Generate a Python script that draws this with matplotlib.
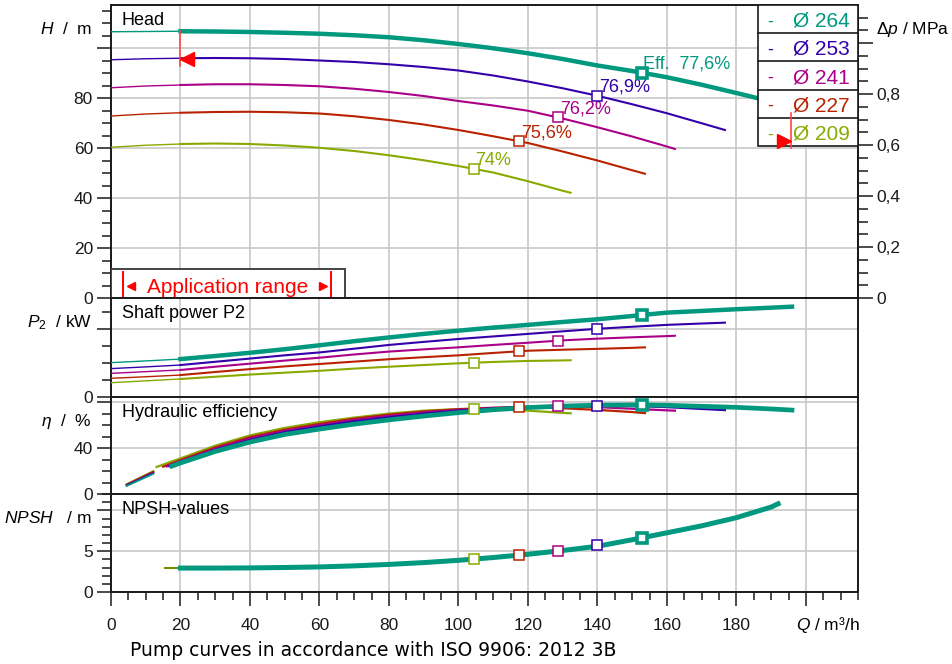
import matplotlib
matplotlib.use("Agg")
import matplotlib.pyplot as plt
from matplotlib.patches import Rectangle
from matplotlib.ticker import MultipleLocator, FixedLocator, FuncFormatter

plt.rcParams['font.family'] = ['Liberation Sans', 'DejaVu Sans']
plt.rcParams['mathtext.fontset'] = 'custom'
plt.rcParams['mathtext.rm'] = 'Liberation Sans'
plt.rcParams['mathtext.it'] = 'Liberation Sans:italic'

# impellers, biggest first
diameters = [264, 253, 241, 227, 209]
colors = ['#00997f', '#3300aa', '#aa0088', '#b82200', '#88aa00']
eff_text = ['Eff.  77,6%', '76,9%', '76,2%', '75,6%', '74%']

# best efficiency points
bep_q = [152.8, 140.0, 128.7, 117.5, 104.5]
bep_h = [90.1, 80.9, 72.3, 62.8, 51.6]
bep_p = [48.2, 40.1, 33.2, 27.0, 20.2]
bep_eta = [77.6, 76.9, 76.2, 75.6, 74.0]
bep_npsh = [6.67, 5.73, 5.0, 4.47, 4.02]

# head and shaft power
q_264 = [0, 10, 20, 30, 40, 50, 60, 70, 80, 90, 100, 110, 120, 130, 140, 150, 152.8, 160, 170, 180, 190, 196]
h_264 = [106.5, 106.6, 106.7, 106.6, 106.4, 106.1, 105.7, 105.1, 104.3, 103.1, 101.6, 99.9, 97.9, 95.6, 93.0, 90.8, 90.1, 88.3, 85.3, 82.0, 78.6, 76.5]
p_264 = [20.2, 21.2, 22.3, 24.1, 26.0, 28.1, 30.4, 32.8, 35.0, 37.1, 39.0, 40.8, 42.4, 44.1, 45.7, 47.6, 48.2, 49.6, 50.6, 51.6, 52.5, 53.1]

q_253 = [0, 10, 20, 30, 40, 50, 60, 70, 80, 90, 100, 110, 120, 130, 140, 150, 160, 170, 176.7]
h_253 = [95.3, 95.7, 95.9, 96.0, 95.9, 95.6, 95.0, 94.4, 93.5, 92.4, 91.0, 89.0, 86.6, 83.9, 80.9, 77.5, 73.9, 69.9, 67.2]
p_253 = [16.7, 17.7, 18.8, 20.7, 22.6, 24.5, 26.2, 28.4, 30.6, 32.4, 34.1, 35.6, 37.1, 38.6, 40.1, 41.3, 42.4, 43.2, 43.7]

q_241 = [0, 10, 20, 30, 40, 50, 60, 70, 80, 90, 100, 110, 120, 130, 140, 150, 160, 162.3]
h_241 = [84.1, 84.8, 85.2, 85.5, 85.5, 85.2, 84.7, 83.7, 82.4, 80.8, 78.8, 77.0, 74.9, 71.8, 68.3, 64.6, 60.6, 59.6]
p_241 = [13.9, 14.9, 15.9, 17.8, 19.6, 21.4, 23.1, 25.0, 26.7, 28.0, 29.2, 30.6, 31.9, 33.3, 34.3, 35.1, 35.8, 36.0]

q_227 = [0, 10, 20, 30, 40, 50, 60, 70, 80, 90, 100, 110, 120, 130, 140, 150, 153.7]
h_227 = [72.8, 73.6, 74.1, 74.4, 74.5, 74.3, 73.8, 72.7, 71.2, 69.4, 67.2, 64.7, 62.0, 58.6, 55.0, 51.1, 49.7]
p_227 = [11.0, 11.9, 12.9, 14.7, 16.4, 18.0, 19.4, 20.8, 22.2, 23.4, 24.5, 25.9, 27.2, 27.8, 28.3, 28.9, 29.2]

q_209 = [0, 10, 20, 30, 40, 50, 60, 70, 80, 90, 100, 110, 120, 130, 132.3]
h_209 = [60.3, 61.1, 61.6, 61.8, 61.6, 61.0, 60.1, 58.8, 57.1, 55.1, 52.8, 50.2, 46.7, 42.9, 42.1]
p_209 = [8.4, 9.5, 10.6, 11.9, 13.2, 14.3, 15.4, 16.7, 17.8, 18.8, 19.8, 20.6, 21.2, 21.5, 21.6]

# hydraulic efficiency
qe_264 = [17.5, 20, 30, 40, 50, 60, 70, 80, 90, 100, 110, 120, 130, 140, 152.8, 160, 170, 180, 190, 196]
eta_264 = [24.3, 27.0, 37.0, 45.2, 51.8, 56.5, 60.8, 64.5, 67.8, 70.8, 73.3, 75.2, 76.5, 77.3, 77.6, 77.2, 76.3, 75.4, 74.0, 73.0]
qe_253 = [16.8, 20, 30, 40, 50, 60, 70, 80, 90, 100, 110, 120, 130, 140, 150, 160, 170, 176.7]
eta_253 = [24.2, 28.0, 38.5, 47.0, 53.8, 58.8, 63.2, 66.8, 70.0, 72.5, 74.5, 75.8, 76.6, 76.9, 76.6, 75.6, 74.0, 73.0]
qe_241 = [16.0, 20, 30, 40, 50, 60, 70, 80, 90, 100, 110, 120, 130, 140, 150, 160, 162.3]
eta_241 = [24.0, 28.5, 39.5, 48.4, 55.0, 60.0, 64.5, 68.0, 71.0, 73.2, 74.8, 75.8, 76.2, 75.6, 74.2, 72.8, 72.5]
qe_227 = [15.0, 20, 30, 40, 50, 60, 70, 80, 90, 100, 110, 120, 130, 140, 150, 153.7]
eta_227 = [23.8, 29.5, 40.5, 49.5, 56.0, 61.0, 65.5, 69.0, 71.8, 73.8, 75.1, 75.6, 74.6, 73.2, 71.3, 70.4]
qe_209 = [13.1, 20, 30, 40, 50, 60, 70, 80, 90, 100, 110, 120, 130, 132.3]
eta_209 = [23.5, 31.0, 42.0, 51.0, 57.5, 62.5, 66.5, 70.0, 72.5, 73.9, 73.9, 72.5, 70.6, 70.2]

# low flow part of the efficiency curves
q_low = [4.5, 12.2]
eta_low = [[7.0, 17.6], [7.4, 18.2], [7.8, 18.8], [8.2, 19.4], [8.6, 20.0]]

# NPSH
npsh_q = [20, 30, 40, 50, 60, 70, 80, 90, 100, 110, 120, 130, 140, 150, 160, 170, 180, 190, 192]
npsh_m = [2.93, 2.93, 2.95, 3.0, 3.07, 3.2, 3.38, 3.6, 3.88, 4.22, 4.62, 5.08, 5.6, 6.4, 7.25, 8.1, 9.1, 10.4, 10.8]
npsh_start_q = [15.4, 20]
npsh_start_m = [2.93, 2.93]

# application range (Q limits, top of the marker line)
app_q = [20.0, 195.8]
app_top = [106.7, 74.0]

head_q = [q_264, q_253, q_241, q_227, q_209]
head_h = [h_264, h_253, h_241, h_227, h_209]
power_p = [p_264, p_253, p_241, p_227, p_209]
eff_q = [qe_264, qe_253, qe_241, qe_227, qe_209]
eff_eta = [eta_264, eta_253, eta_241, eta_227, eta_209]

W_PX, H_PX = 953, 664
fig = plt.figure(figsize=(W_PX / 100, H_PX / 100), dpi=100)
left, right = 111, 858


def box(top, bottom):
    return [left / W_PX, 1 - bottom / H_PX, (right - left) / W_PX, (bottom - top) / H_PX]


ax_h = fig.add_axes(box(5, 298))
ax_p = fig.add_axes(box(298, 397))
ax_e = fig.add_axes(box(397, 494))
ax_n = fig.add_axes(box(494, 592))
axes = [ax_h, ax_p, ax_e, ax_n]

grid_c = '#c8c8c8'
dark = '#1a1a1a'
for ax in axes:
    ax.set_xlim(0, 215)
    ax.xaxis.set_major_locator(MultipleLocator(20))
    ax.xaxis.set_minor_locator(MultipleLocator(5))
    ax.grid(True, which='major', color=grid_c, lw=1.2)
    ax.set_axisbelow(True)
    for s in ax.spines.values():
        s.set_linewidth(1.4)
        s.set_color(dark)
    ax.tick_params(axis='y', which='major', direction='out', length=10, width=1.1,
                   pad=3, labelsize=12.5, colors=dark)
    ax.tick_params(axis='y', which='minor', direction='out', length=6.5, width=1.1, colors=dark)
    if ax is not ax_n:
        ax.tick_params(axis='x', which='both', length=0, labelbottom=False)

ax_n.tick_params(axis='x', which='major', direction='out', length=10, width=1.1,
                 pad=9, labelsize=12.5, colors=dark)
ax_n.tick_params(axis='x', which='minor', direction='out', length=6, width=1.1, colors=dark)
ax_n.xaxis.set_major_formatter(FuncFormatter(lambda v, _: '' if v >= 199 else f'{v:.0f}'))


def set_y(ax, top, majors, minor, labels):
    ax.set_ylim(0, top)
    ax.yaxis.set_major_locator(FixedLocator(majors))
    ax.yaxis.set_minor_locator(MultipleLocator(minor))
    ax.set_yticklabels(labels)


set_y(ax_h, 117.2, [0, 20, 40, 60, 80, 100], 5, ['0', '20', '40', '60', '80', ''])
set_y(ax_p, 58.2, [0, 40], 10, ['0', ''])
set_y(ax_e, 84.4, [0, 40, 80], 10, ['0', '40', ''])
set_y(ax_n, 12.0, [0, 5, 10], 1, ['0', '5', ''])

# pressure scale on the right of the head panel
sec = ax_h.secondary_yaxis('right', functions=(lambda h: h * 0.00981, lambda p: p / 0.00981))
sec.yaxis.set_major_locator(FixedLocator([0, 0.2, 0.4, 0.6, 0.8, 1.0]))
sec.yaxis.set_minor_locator(MultipleLocator(0.05))
sec.yaxis.set_major_formatter(FuncFormatter(
    lambda v, _: '' if v > 0.9 else ('0' if abs(v) < 1e-9 else f'{v:.1f}'.replace('.', ','))))
sec.tick_params(which='major', direction='out', length=10.5, width=1.1, pad=3,
                labelsize=12.5, colors=dark)
sec.tick_params(which='minor', direction='out', length=7, width=1.1, colors=dark)
sec.spines['right'].set_linewidth(1.4)
sec.spines['right'].set_color(dark)

# curves, smallest impeller first so the big one lies on top
for i in reversed(range(5)):
    c = colors[i]
    big = i == 0
    lw = 3.2 if big else 1.5
    ms = 7.5 if big else 6.5
    mew = 2.6 if big else 1.1
    q = head_q[i]
    k = q.index(20)

    ax_h.plot(q[:k + 1], head_h[i][:k + 1], color=c, lw=1.0, zorder=3)
    ax_h.plot(q[k:], head_h[i][k:], color=c, lw=lw, zorder=3)
    ax_h.plot(bep_q[i], bep_h[i], marker='s', ms=ms, mfc='white', mec=c, mew=mew, zorder=4)
    ax_h.annotate(eff_text[i], (bep_q[i], bep_h[i]), xytext=(1.5, 4), textcoords='offset pixels',
                  color=c, fontsize=13, ha='left', va='baseline', zorder=4)

    ax_p.plot(q[:k + 1], power_p[i][:k + 1], color=c, lw=1.0, zorder=3)
    ax_p.plot(q[k:], power_p[i][k:], color=c, lw=lw, zorder=3)
    ax_p.plot(bep_q[i], bep_p[i], marker='s', ms=ms, mfc='white', mec=c, mew=mew, zorder=4)

    ax_e.plot(q_low, eta_low[i], color=c, lw=1.3, zorder=3)
    ax_e.plot(eff_q[i], eff_eta[i], color=c, lw=3.4 if big else 1.6, zorder=3)
    ax_e.plot(bep_q[i], bep_eta[i], marker='s', ms=ms, mfc='white', mec=c, mew=mew, zorder=4)

ax_n.plot(npsh_start_q, npsh_start_m, color='#7a8a00', lw=1.5, zorder=3)
ax_n.plot(npsh_q, npsh_m, color=colors[0], lw=3.6, zorder=3)
for i in reversed(range(5)):
    big = i == 0
    ax_n.plot(bep_q[i], bep_npsh[i], marker='s', ms=7.5 if big else 6.5, mfc='white',
              mec=colors[i], mew=2.6 if big else 1.1, zorder=4)

# application range box
ax_h.add_patch(Rectangle((0, 0), 67.3, 11.6, facecolor='white', edgecolor='#444444',
                         lw=1.4, zorder=4))
for x in (3.5, 63.3):
    ax_h.plot([x, x], [0, 10.4], color='red', lw=1.4, zorder=5)
ax_h.plot(5.8, 5.0, marker='<', color='red', ms=6, zorder=5)
ax_h.plot(61.0, 5.0, marker='>', color='red', ms=6, zorder=5)
ax_h.text(33.6, 2.1, 'Application range', color='red', fontsize=15, ha='center',
          va='baseline', zorder=5)

# legend box in the upper right corner
lx0 = (758 - left) / (right - left)
row = 28.2 / 293
ax_h.add_patch(Rectangle((lx0, 1 - 5 * row), 1 - lx0, 5 * row, transform=ax_h.transAxes,
                         facecolor='white', edgecolor=dark, lw=1.2, zorder=6, clip_on=False))
for j in range(1, 5):
    ax_h.plot([lx0, 1], [1 - j * row, 1 - j * row], transform=ax_h.transAxes,
              color=dark, lw=1.2, zorder=7, clip_on=False)
for j, (d, c) in enumerate(zip(diameters, colors)):
    yb = 1 - (j * 28.2 + 21.7) / 293
    ax_h.text((767 - left) / (right - left), yb, '-', color=c, fontsize=13,
              transform=ax_h.transAxes, va='baseline', zorder=8)
    ax_h.text((793 - left) / (right - left), yb, f'Ø {d}', color=c, fontsize=15,
              transform=ax_h.transAxes, va='baseline', zorder=8)

# application range limits on the curves
for qa, top, mk, dx in zip(app_q, app_top, ['<', '>'], [2.0, -2.0]):
    ax_h.plot([qa, qa], [top, top - 14], color='#ff4444', lw=1.2, zorder=9)
    ax_h.plot(qa + dx, top - 11.2, marker=mk, color='red', ms=10, zorder=9, clip_on=False)

# panel titles and axis names
titles = ['Head', 'Shaft power P2', 'Hydraulic efficiency', 'NPSH-values']
ylabels = ['$H$  /  m', '$P_2$  / kW', '$\\eta$  /  %', '$NPSH$   / m']
for ax, t, yl in zip(axes, titles, ylabels):
    ax.annotate(t, (0, 1), xycoords='axes fraction', xytext=(11, -20),
                textcoords='offset pixels', fontsize=13, va='baseline', color='black')
    ax.annotate(yl, (0, 1), xycoords='axes fraction', xytext=(-19, -29),
                textcoords='offset pixels', fontsize=12.5, ha='right', va='baseline')

ax_h.annotate('$\\Delta p$ / MPa', (1, 1), xycoords='axes fraction', xytext=(18, -29),
              textcoords='offset pixels', fontsize=12.5, ha='left', va='baseline',
              annotation_clip=False)
ax_n.annotate('$Q$ / m³/h', (1, 0), xycoords='axes fraction', xytext=(2, -38),
              textcoords='offset pixels', fontsize=12.5, ha='right', va='baseline',
              annotation_clip=False)

fig.text(130 / W_PX, 1 - 656 / H_PX, 'Pump curves in accordance with ISO 9906: 2012 3B',
         fontsize=13.5, family='DejaVu Sans', va='baseline')

fig.savefig('out.png', dpi=100)
